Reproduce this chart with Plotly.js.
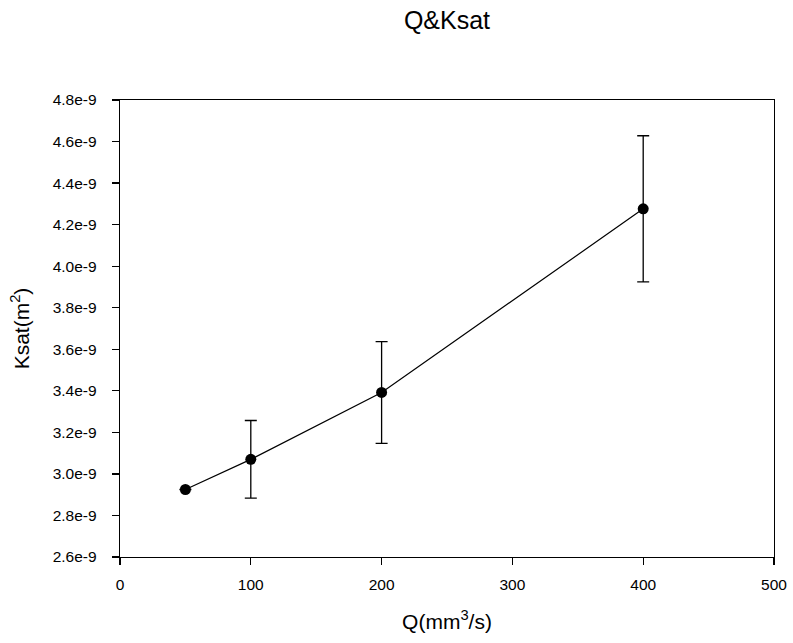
<!DOCTYPE html>
<html>
<head>
<meta charset="utf-8">
<script src="https://cdn.plot.ly/plotly-3.0.1.min.js"></script>
<style>html,body{margin:0;padding:0;background:#fff;}#chart{width:793px;height:643px;}</style>
</head>
<body>
<div id="chart"></div>
<script>
const flowQ = [50, 100, 200, 400];
const ksat = [2.925e-9, 3.07e-9, 3.392e-9, 4.276e-9];
const ksatErr = [0, 0.187e-9, 0.245e-9, 0.352e-9];
const yTickVals = [2.6e-9, 2.8e-9, 3.0e-9, 3.2e-9, 3.4e-9, 3.6e-9, 3.8e-9, 4.0e-9, 4.2e-9, 4.4e-9, 4.6e-9, 4.8e-9];
const yTickText = ["2.6e-9","2.8e-9","3.0e-9","3.2e-9","3.4e-9","3.6e-9","3.8e-9","4.0e-9","4.2e-9","4.4e-9","4.6e-9","4.8e-9"];
const xTickVals = [0, 100, 200, 300, 400, 500];

const font = "Liberation Sans, Arial, sans-serif";
const trace = {
  x: flowQ, y: ksat, type: 'scatter', mode: 'lines+markers',
  line: {color: '#000', width: 1.2},
  marker: {color: '#000', size: 11},
  error_y: {type: 'data', array: ksatErr, visible: true, color: '#000', thickness: 1.3, width: 6},
  showlegend: false
};
const layout = {
  width: 793, height: 643,
  margin: {l: 120, r: 19, t: 100, b: 86},
  paper_bgcolor: '#fff', plot_bgcolor: '#fff',
  font: {family: font, color: '#000', size: 15},
  title: {text: 'Q&Ksat', font: {family: font, size: 25, color: '#000'}, x: 447/793, xanchor: 'center', y: 1 - 20/643, yanchor: 'middle'},
  xaxis: {
    range: [0, 500], tickvals: xTickVals, ticks: 'outside', ticklen: 7, tickwidth: 1.2, tickcolor: '#000',
    ticklabelstandoff: 6,
    showline: true, linecolor: '#000', linewidth: 1.3, mirror: true, showgrid: false, zeroline: false,
    tickfont: {size: 15.5, family: font, color: '#000'},
    title: {text: 'Q(mm<sup>3</sup>/s)', font: {size: 21, family: font, color: '#000'}, standoff: 22}
  },
  yaxis: {
    range: [2.6e-9, 4.8e-9], tickvals: yTickVals, ticktext: yTickText, ticks: 'outside', ticklen: 7, tickwidth: 1.2, tickcolor: '#000',
    ticklabelstandoff: 12,
    showline: true, linecolor: '#000', linewidth: 1.3, mirror: true, showgrid: false, zeroline: false,
    tickfont: {size: 15.5, family: font, color: '#000'},
    title: {text: 'Ksat(m<sup>2</sup>)', font: {size: 21, family: font, color: '#000'}, standoff: 17}
  }
};
Plotly.newPlot('chart', [trace], layout, {displayModeBar: false, staticPlot: true});
</script>
</body>
</html>
